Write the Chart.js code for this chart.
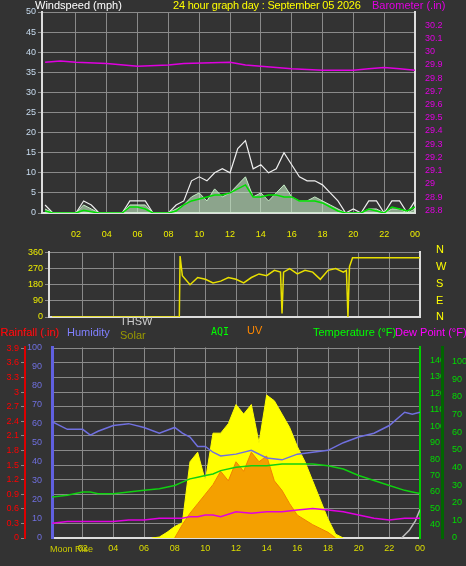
<!DOCTYPE html>
<html><head><meta charset="utf-8">
<script src="https://cdn.jsdelivr.net/npm/chart.js@4"></script>
<style>
body{margin:0;background:#333;width:466px;height:566px;overflow:hidden;font-family:"Liberation Sans",Arial,sans-serif}
canvas{position:absolute;left:0}
.t{position:absolute;font-size:11px;white-space:nowrap}
</style></head><body>
<canvas id="c1" style="top:0" width="466" height="245"></canvas>
<canvas id="c2" style="top:245px" width="466" height="80"></canvas>
<canvas id="c3" style="top:340px" width="466" height="226"></canvas>
<div class="t" style="left:35px;top:-1px;color:#fff">Windspeed (mph)</div>
<div class="t" style="left:173px;top:-1px;color:#ff0;letter-spacing:-0.2px">24 hour graph day : September 05 2026</div>
<div class="t" style="left:372px;top:-1px;color:#e000e0">Barometer (.in)</div>
<div class="t" style="left:436px;top:243px;color:#ff0">N</div>
<div class="t" style="left:436px;top:260px;color:#ff0">W</div>
<div class="t" style="left:436px;top:277px;color:#ff0">S</div>
<div class="t" style="left:436px;top:294px;color:#ff0">E</div>
<div class="t" style="left:436px;top:310px;color:#ff0">N</div>
<div class="t" style="left:0;top:326px;color:#f00">Rainfall (.in)</div>
<div class="t" style="left:67px;top:326px;color:#8080ff">Humidity</div>
<div class="t" style="left:120px;top:315px;color:#ccc">THSW</div>
<div class="t" style="left:120px;top:329px;color:#9a9a00">Solar</div>
<div class="t" style="left:211px;top:326px;color:#0f0;font-family:'DejaVu Sans Mono';font-size:10px">AQI</div>
<div class="t" style="left:247px;top:324px;color:#f80">UV</div>
<div class="t" style="left:313px;top:326px;color:#0f0">Temperature (°F)</div>
<div class="t" style="left:395px;top:326px;color:#f0f">Dew Point (°F)</div>
<div class="t" style="left:50px;top:544px;color:#cc0;font-size:9px">Moon Rise</div>
<script>
// ---- data ----
const hoursTicks = [2,4,6,8,10,12,14,16,18,20,22,24];
const windHours = [0,0.5,1,1.5,2,2.5,3,3.5,4,4.5,5,5.5,6,6.5,7,7.5,8,8.5,9,9.5,10,10.5,11,11.5,12,12.5,13,13.5,14,14.5,15,15.5,16,16.5,17,17.5,18,18.5,19,19.5,20,20.5,21,21.5,22,22.5,23,23.5,24];
const windGust = [2,0,0,0,0,3,2,0,0,0,0,3,3,3,0,0,0,2,3,8,9,8,10,11,10,16,18,11,12,10,11,15,12,9,8,8,7,5,3,0,1,0,3,3,0,3,3,0,3];
const windSpeed = [1,0,0,0,0,2,1,0,0,0,0,2,2,2,0,0,0,1,2,4,5,3,6,4,5,7,9,4,5,3,5,7,4,3,3,4,3,2,1,0,0,0,1,1,0,1,1,0,1];
const windAvg = [0.5,0,0,0,0,0.7,0.3,0,0,0,0,1.5,1.5,1,0,0,0,0.5,2,3,3.5,4,4.5,4.5,5,6,7,4,4,4.5,4.5,4,4,3,3,3,2.5,1.5,0.5,0,0,0,1,0.5,0,1.5,1,0.5,1.5];
const baroHours = [0,1,2,4,6,8,9,12,13,14,16,18,20,21,22,23,24];
const baro = [29.92,29.93,29.92,29.91,29.89,29.90,29.91,29.92,29.90,29.89,29.87,29.86,29.86,29.87,29.88,29.87,29.86];
const dirHours = [0,8.3,8.35,8.5,9,9.5,10,10.5,11,11.5,12,12.5,13,13.5,14,14.5,14.9,15,15.1,15.5,16,16.5,17,17.5,18,18.5,19,19.2,19.3,19.4,19.6,24];
const windDir = [0,0,340,230,180,220,210,190,200,220,210,190,220,240,230,260,250,20,250,270,240,260,250,210,260,270,250,260,0,280,330,330];
const climHours = [0,1,2,2.5,3,4,5,6,7,8,8.5,9,9.5,10,10.5,11,12,13,14,15,16,17,18,19,20,21,22,23,23.5,24];
const humidity = [61,57,57,54,56,59,60,58,55,58,55,53,48,48,45,43,44,46,42,41,44,45,46,50,53,55,59,66,65,66];
const temperature = [57,58,60,60,59,59,60,61,62,64,66,68,69,70,71,73,75,76,76,77,77,77,76,74,70,67,64,61,60,59];
const dewPoint = [41,42,42,42,42,42,43,43,44,44,44,45,45,46,46,45,48,47,48,48,49,50,49,48,46,44,43,44,44,44];
const solarHours = [6.5,7,7.5,8,8.5,9,9.5,10,10.5,11,11.5,12,12.5,13,13.5,14,14.5,15,15.5,16,16.5,17,17.5,18,18.5,19];
const solar = [0,5,30,60,80,400,450,300,550,550,600,700,650,700,500,750,720,650,580,480,400,300,200,100,20,0];
const uvHours = [8,8.5,9,9.5,10,10.5,11,11.5,12,12.5,13,13.5,14,14.5,15,15.5,16,17,18,18.5];
const uv = [0,70,130,180,230,280,350,300,400,350,450,400,430,300,250,180,120,70,30,0];
const thswHours = [22.8,23.3,23.7,24];
const thsw = [0,40,90,150];

const zip=(h,v)=>h.map((x,i)=>({x,y:v[i]}));
const grid={color:'#8a8a8a',borderDash:[1,2],drawTicks:true,tickLength:4};
const fw=w=>(s=>{s.width=w;});
const fh=h=>(s=>{s.height=h;});
const xfmt=v=>String(v%24).padStart(2,'0');
Chart.defaults.font.family='Liberation Sans';
Chart.defaults.font.size=9;
Chart.defaults.animation=false;
const common={responsive:false,plugins:{legend:{display:false},tooltip:{enabled:false}},elements:{point:{radius:0}}};
const tk=(c,extra)=>Object.assign({color:c,autoSkip:false,padding:2},extra||{});

new Chart(document.getElementById('c1'),{type:'line',data:{datasets:[
 {data:zip(baroHours,baro),borderColor:'#e000e0',borderWidth:1.5,yAxisID:'yb'},
 {data:zip(windHours,windAvg),borderColor:'#00e000',borderWidth:1.5,yAxisID:'y'},
 {data:zip(windHours,windSpeed),borderColor:'#c8f0c8',backgroundColor:'rgba(200,240,200,0.6)',fill:'origin',borderWidth:1,yAxisID:'y'},
 {data:zip(windHours,windGust),borderColor:'#f0f0f0',borderWidth:1.2,yAxisID:'y'}]},
 options:{...common,layout:{padding:{top:12}},scales:{
  x:{type:'linear',min:-0.2,max:24,afterBuildTicks:a=>{a.ticks=hoursTicks.map(v=>({value:v}));},afterFit:fh(32),
     ticks:tk('#ee0',{padding:16,callback:xfmt,maxRotation:0}),grid:{...grid,drawTicks:false},border:{color:'#ddd',width:2}},
  y:{position:'left',min:0,max:50,afterFit:fw(42),ticks:tk('#c8dcf0',{stepSize:5}),grid,border:{color:'#ddd',width:2}},
  yb:{position:'right',min:28.78,max:30.3,afterFit:fw(51),afterBuildTicks:a=>{a.ticks=[];for(let i=0;i<=14;i++)a.ticks.push({value:28.8+i*0.1});},
     ticks:tk('#e000e0',{callback:v=>+v.toFixed(1)}),grid:{display:false},border:{color:'#ddd',width:2}}}}});

new Chart(document.getElementById('c2'),{type:'line',data:{datasets:[
 {data:zip(dirHours,windDir),borderColor:'#e8e000',borderWidth:1.5}]},
 options:{...common,layout:{padding:{top:7,bottom:8}},scales:{
  x:{type:'linear',min:-0.2,max:24,display:true,afterBuildTicks:a=>{a.ticks=hoursTicks.map(v=>({value:v}));},ticks:{display:false},afterFit:fh(0),grid:{...grid,drawTicks:false},border:{color:'#ddd',width:2}},
  y:{position:'left',min:0,max:360,afterFit:fw(49),ticks:tk('#ee0',{stepSize:90}),grid,border:{color:'#ddd',width:2}},
  yr:{position:'right',min:0,max:360,afterFit:fw(46),ticks:{display:false},grid:{display:false},border:{color:'#ddd',width:2}}}}});

new Chart(document.getElementById('c3'),{type:'line',data:{datasets:[
 {data:zip(climHours,humidity),borderColor:'#7070e0',borderWidth:1.5,yAxisID:'yh'},
 {data:zip(climHours,temperature),borderColor:'#10d010',borderWidth:1.5,yAxisID:'yt'},
 {data:zip(climHours,dewPoint),borderColor:'#e000e0',borderWidth:1.5,yAxisID:'yt'},
 {data:zip(thswHours,thsw),borderColor:'#bbb',borderWidth:1.5,yAxisID:'ys'},
 {data:zip(uvHours,uv),borderColor:'#f08000',backgroundColor:'rgba(240,128,0,0.75)',fill:'origin',borderWidth:1,yAxisID:'ys'},
 {data:zip(solarHours,solar),borderColor:'#ff0',backgroundColor:'#ffff00',fill:'origin',borderWidth:1,yAxisID:'ys'}]},
 options:{...common,layout:{padding:{top:7}},scales:{
  x:{type:'linear',min:0,max:24,afterBuildTicks:a=>{a.ticks=hoursTicks.map(v=>({value:v}));},afterFit:fh(28),
     ticks:tk('#dd0',{padding:5,callback:xfmt,maxRotation:0}),grid:{...grid,drawTicks:false},border:{color:'#ddd',width:2}},
  yh:{position:'left',min:0,max:100,afterFit:fw(27),ticks:tk('#7070e0',{stepSize:10}),grid:{display:false},border:{color:'#6060e0',width:3}},
  yr:{position:'left',min:0,max:3.92,afterFit:fw(25),afterBuildTicks:a=>{a.ticks=[];for(let i=0;i<=13;i++)a.ticks.push({value:i*0.3});},
     ticks:tk('#f00',{callback:v=>+v.toFixed(1)}),grid,border:{color:'#d00',width:2}},
  yt:{position:'right',min:32,max:148,afterFit:fw(22),afterBuildTicks:a=>{a.ticks=[];for(let i=4;i<=14;i++)a.ticks.push({value:i*10});},
     ticks:tk('#0d0'),grid:{display:false},border:{color:'#0c0',width:2}},
  ya:{position:'right',min:0,max:108,afterFit:fw(24),afterBuildTicks:a=>{a.ticks=[];for(let i=0;i<=10;i++)a.ticks.push({value:i*10});},
     ticks:tk('#0d0'),grid:{display:false},border:{color:'#060',width:3}},
  ys:{display:false,min:0,max:1000}}}});
</script></body></html>
